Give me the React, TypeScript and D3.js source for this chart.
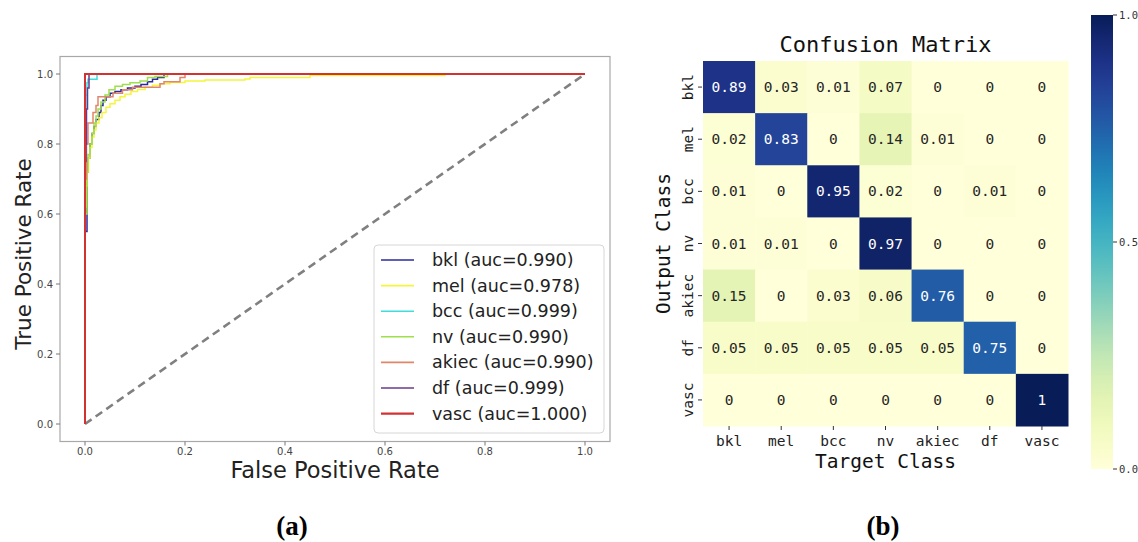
import React from 'react';
import * as d3 from 'd3';

// ---- ROC data (fpr, tpr) ----
const bklRoc: [number, number][] = [[0,0],[0,0.55],[0.004,0.72],[0.006,0.76],[0.01,0.8],[0.014,0.83],[0.018,0.85],[0.022,0.87],[0.028,0.89],[0.032,0.91],[0.036,0.925],[0.042,0.935],[0.05,0.945],[0.06,0.95],[0.072,0.955],[0.085,0.96],[0.1,0.965],[0.112,0.97],[0.125,0.978],[0.135,0.985],[0.145,0.99],[0.158,1],[1,1]];
const melRoc: [number, number][] = [[0,0],[0,0.62],[0.002,0.68],[0.004,0.72],[0.007,0.76],[0.01,0.79],[0.014,0.82],[0.018,0.84],[0.022,0.86],[0.028,0.875],[0.034,0.89],[0.042,0.905],[0.05,0.915],[0.06,0.925],[0.07,0.935],[0.08,0.942],[0.092,0.95],[0.105,0.956],[0.12,0.962],[0.135,0.968],[0.15,0.972],[0.17,0.976],[0.2,0.98],[0.24,0.983],[0.32,0.986],[0.33,0.99],[0.45,0.996],[0.72,1],[1,1]];
const bccRoc: [number, number][] = [[0,0],[0,0.9],[0.002,0.94],[0.004,0.975],[0.006,0.985],[0.024,1],[1,1]];
const nvRoc: [number, number][] = [[0,0],[0,0.6],[0.004,0.72],[0.006,0.77],[0.01,0.8],[0.014,0.83],[0.018,0.86],[0.022,0.88],[0.026,0.9],[0.032,0.92],[0.04,0.94],[0.048,0.955],[0.06,0.965],[0.075,0.97],[0.09,0.975],[0.11,0.98],[0.125,0.99],[0.14,0.993],[0.165,1],[1,1]];
const akiecRoc: [number, number][] = [[0,0],[0,0.7],[0.003,0.8],[0.006,0.86],[0.012,0.86],[0.016,0.89],[0.022,0.91],[0.026,0.935],[0.05,0.935],[0.056,0.945],[0.075,0.955],[0.095,0.962],[0.15,0.972],[0.158,0.978],[0.19,0.99],[0.2,1],[1,1]];
const dfRoc: [number, number][] = [[0,0],[0,0.75],[0.002,0.8],[0.003,0.9],[0.005,0.96],[0.008,1],[1,1]];
const vascRoc: [number, number][] = [[0,0],[0,1],[1,1]];

const rocNames = ['bkl', 'mel', 'bcc', 'nv', 'akiec', 'df', 'vasc'];
const rocAuc = ['0.990', '0.978', '0.999', '0.990', '0.990', '0.999', '1.000'];
const rocColors = ['#2a2aa0', '#f5f53c', '#3fdede', '#9ee04a', '#e0866a', '#6a3a90', '#d23232'];
const rocCurves = [bklRoc, melRoc, bccRoc, nvRoc, akiecRoc, dfRoc, vascRoc];
const rocTicks = [0, 0.2, 0.4, 0.6, 0.8, 1.0];

// ---- confusion matrix ----
const cmClasses = ['bkl', 'mel', 'bcc', 'nv', 'akiec', 'df', 'vasc'];
const cmValues = [
  [0.89, 0.03, 0.01, 0.07, 0, 0, 0],
  [0.02, 0.83, 0, 0.14, 0.01, 0, 0],
  [0.01, 0, 0.95, 0.02, 0, 0.01, 0],
  [0.01, 0.01, 0, 0.97, 0, 0, 0],
  [0.15, 0, 0.03, 0.06, 0.76, 0, 0],
  [0.05, 0.05, 0.05, 0.05, 0.05, 0.75, 0],
  [0, 0, 0, 0, 0, 0, 1],
];
const cbTicks = [0, 0.5, 1.0];

const W = 1138, H = 542;
const sans = 'DejaVu Sans, sans-serif';
const mono = 'DejaVu Sans Mono, monospace';

const RocPanel = () => {
  // axes frame (matplotlib 5% margins)
  const x = d3.scaleLinear().domain([-0.05, 1.05]).range([60, 610]);
  const y = d3.scaleLinear().domain([-0.05, 1.05]).range([441.5, 56.5]);
  const line = d3.line<[number, number]>().x(d => x(d[0])).y(d => y(d[1])).curve(d3.curveStepAfter);
  const diag = d3.line<[number, number]>().x(d => x(d[0])).y(d => y(d[1]));
  const [x0, x1] = x.range();
  const [y0, y1] = y.range();
  const legX = 374, legY = 245, legW = 230, legH = 188, rowH = 25.6;
  return (
    <g>
      <defs>
        <clipPath id="rocClip"><rect x={x0} y={y1} width={x1 - x0} height={y0 - y1} /></clipPath>
      </defs>
      <rect x={x0} y={y1} width={x1 - x0} height={y0 - y1} fill="#fff" stroke="#a8a8a8" strokeWidth={1.2} />
      {rocTicks.map(t => (
        <g key={'x' + t}>
          <line x1={x(t)} x2={x(t)} y1={y0} y2={y0 + 4} stroke="#777" />
          <text x={x(t)} y={y0 + 13} fontSize={10} fill="#444" textAnchor="middle" fontFamily={sans}>{t.toFixed(1)}</text>
        </g>
      ))}
      {rocTicks.map(t => (
        <g key={'y' + t}>
          <line x1={x0 - 4} x2={x0} y1={y(t)} y2={y(t)} stroke="#777" />
          <text x={x0 - 7} y={y(t) + 3.5} fontSize={10} fill="#444" textAnchor="end" fontFamily={sans}>{t.toFixed(1)}</text>
        </g>
      ))}
      <g clipPath="url(#rocClip)">
        <path d={diag([[0, 0], [1, 1]]) || ''} stroke="#808080" strokeWidth={2.6} strokeDasharray="8,5" fill="none" />
        {rocCurves.map((c, i) => (
          <path key={rocNames[i]} d={line(c) || ''} stroke={rocColors[i]} strokeWidth={i === 6 ? 2 : 1.5} fill="none" />
        ))}
      </g>
      <text x={335} y={478} fontSize={22.5} fill="#222" textAnchor="middle" fontFamily={sans}>False Positive Rate</text>
      <text transform={`translate(31,${(y0 + y1) / 2 + 5}) rotate(-90)`} fontSize={21.5} fill="#222" textAnchor="middle" fontFamily={sans}>True Positive Rate</text>
      <rect x={legX} y={legY} width={legW} height={legH} rx={4} fill="#fff" fillOpacity={0.85} stroke="#d6d6d6" />
      {rocNames.map((n, i) => (
        <g key={'leg' + n}>
          <line x1={legX + 7} x2={legX + 40} y1={legY + 15 + i * rowH} y2={legY + 15 + i * rowH} stroke={rocColors[i]} strokeWidth={i === 6 ? 2.2 : 1.6} />
          <text x={legX + 58} y={legY + 21 + i * rowH} fontSize={17.5} fill="#222" fontFamily={sans}>{`${n} (auc=${rocAuc[i]})`}</text>
        </g>
      ))}
    </g>
  );
};

const CmPanel = () => {
  const gx = d3.scaleBand<string>().domain(cmClasses).range([703, 1068]);
  const gy = d3.scaleBand<string>().domain(cmClasses).range([61, 426]);
  const color = d3.scaleSequential(d3.interpolateYlGnBu).domain([0, 1]);
  const cb = d3.scaleLinear().domain([0, 1]).range([469, 15]);
  const stops = d3.range(0, 1.0001, 0.05);
  const fmt = (v: number) => (v === 0 ? '0' : v === 1 ? '1' : v.toFixed(2));
  const bw = gx.bandwidth();
  return (
    <g>
      <defs>
        <linearGradient id="cbGrad" x1="0" x2="0" y1="1" y2="0">
          {stops.map(s => <stop key={s} offset={`${s * 100}%`} stopColor={color(s)} />)}
        </linearGradient>
      </defs>
      <text x={885.5} y={52} fontSize={22} fill="#111" textAnchor="middle" fontFamily={mono}>Confusion Matrix</text>
      {cmValues.map((row, r) => row.map((v, c) => (
        <g key={`c${r}-${c}`}>
          <rect x={gx(cmClasses[c])} y={gy(cmClasses[r])} width={bw + 0.5} height={gy.bandwidth() + 0.5} fill={color(v)} />
          <text x={(gx(cmClasses[c]) || 0) + bw / 2} y={(gy(cmClasses[r]) || 0) + gy.bandwidth() / 2 + 5} fontSize={14.5} textAnchor="middle"
            fill={v > 0.5 ? '#fff' : '#262626'} fontFamily={mono}>{fmt(v)}</text>
        </g>
      )))}
      {cmClasses.map(k => (
        <g key={'xt' + k}>
          <line x1={(gx(k) || 0) + bw / 2} x2={(gx(k) || 0) + bw / 2} y1={426} y2={430} stroke="#333" />
          <text x={(gx(k) || 0) + bw / 2} y={446} fontSize={14.5} textAnchor="middle" fill="#222" fontFamily={mono}>{k}</text>
          <line x1={698} x2={702} y1={(gy(k) || 0) + bw / 2} y2={(gy(k) || 0) + bw / 2} stroke="#333" />
          <text transform={`translate(693,${(gy(k) || 0) + bw / 2}) rotate(-90)`} fontSize={14.5} textAnchor="middle" fill="#222" fontFamily={mono}>{k}</text>
        </g>
      ))}
      <text x={885.5} y={468} fontSize={19.5} textAnchor="middle" fill="#111" fontFamily={mono}>Target Class</text>
      <text transform={`translate(670,243.5) rotate(-90)`} fontSize={19.5} textAnchor="middle" fill="#111" fontFamily={mono}>Output Class</text>
      <rect x={1091} y={cb(1)} width={22} height={cb(0) - cb(1)} fill="url(#cbGrad)" />
      {cbTicks.map(t => (
        <g key={'cb' + t}>
          <line x1={1113} x2={1117} y1={cb(t)} y2={cb(t)} stroke="#333" />
          <text x={1119} y={cb(t) + 4} fontSize={10.5} fill="#333" fontFamily={mono}>{t.toFixed(1)}</text>
        </g>
      ))}
    </g>
  );
};

export default function App() {
  return (
    <div style={{ position: 'fixed', left: 0, top: 0 }}>
      <svg width={W} height={H} style={{ display: 'block', background: '#fff' }}>
        <RocPanel />
        <CmPanel />
        <text x={292} y={535} fontSize={27} fontWeight="bold" textAnchor="middle" fontFamily="Liberation Serif, serif">(a)</text>
        <text x={883} y={535} fontSize={27} fontWeight="bold" textAnchor="middle" fontFamily="Liberation Serif, serif">(b)</text>
      </svg>
    </div>
  );
}
